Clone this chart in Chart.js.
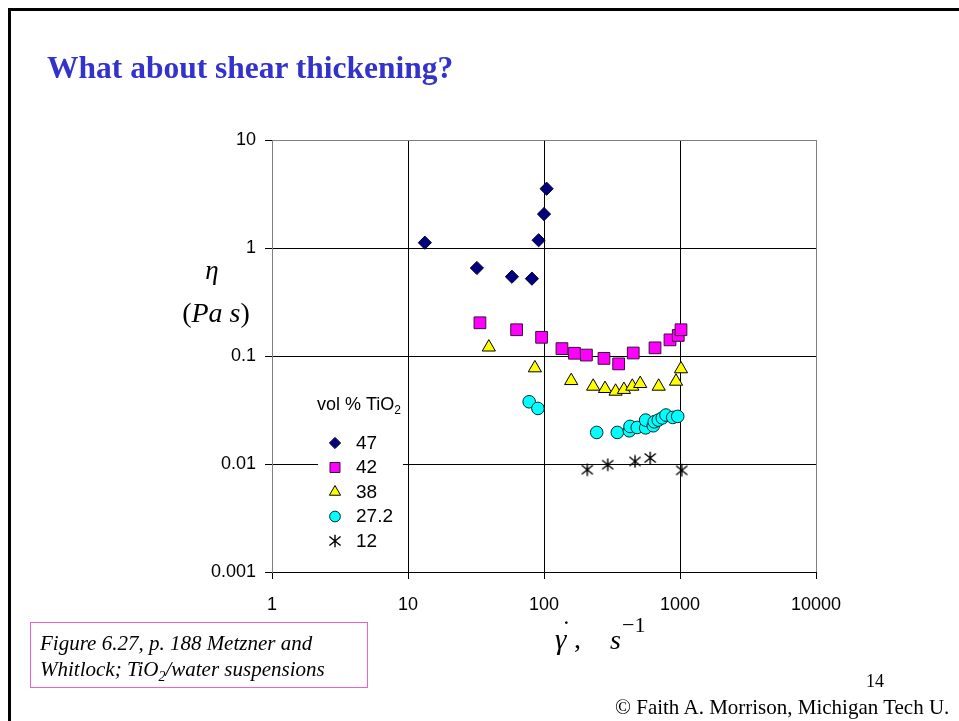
<!DOCTYPE html>
<html>
<head>
<meta charset="utf-8">
<title>What about shear thickening?</title>
<script src="https://cdn.jsdelivr.net/npm/chart.js@4.4.1/dist/chart.umd.min.js"></script>
<style>
  html, body { margin: 0; padding: 0; background: #fff; }
  #page { position: relative; width: 959px; height: 721px; overflow: hidden; background: #fff; }
  #plot { position: absolute; left: 0; top: 0; }
  .bar { position: absolute; background: #000; }
  .txt { position: absolute; white-space: nowrap; line-height: 1; color: #000; }
  .serif { font-family: "Liberation Serif", "Times New Roman", serif; }
  #title { left: 47px; top: 52px; font-size: 31.5px; font-weight: bold; color: #3333CC; }
  #caption { position: absolute; left: 30px; top: 622px; width: 338px; height: 66px;
             border: 1.5px solid #F060D0; box-sizing: border-box; }
  .cap { font-size: 21px; font-style: italic; }
  sub.s { font-size: 14px; vertical-align: baseline; position: relative; top: 5px; }
</style>
</head>
<body>
<div id="page">
  <canvas id="plot" width="959" height="721"></canvas>

  <div class="bar" style="left:8px; top:8px; width:3px; height:713px;"></div>
  <div class="bar" style="left:8px; top:8px; width:951px; height:3px;"></div>

  <div id="title" class="txt serif">What about shear thickening?</div>

  <!-- y-axis title -->
  <div class="txt serif" style="left:182px; width:60px; text-align:center; top:257px; font-size:27px; font-style:italic;">η</div>
  <div class="txt serif" style="left:176px; width:80px; text-align:center; top:299px; font-size:28px;">(<i>Pa s</i>)</div>

  <!-- x-axis title: gamma-dot, s^-1 -->
  <div class="txt serif" style="left:555px; top:625px; font-size:29px; font-style:italic;">γ</div>
  <div class="txt serif" style="left:562px; top:617px; font-size:26px;">˙</div>
  <div class="txt serif" style="left:574px; top:625px; font-size:28px;">,</div>
  <div class="txt serif" style="left:610px; top:626px; font-size:28px; font-style:italic;">s</div>
  <div class="txt serif" style="left:622px; top:614px; font-size:22px;">−1</div>

  <div id="caption">
    <div class="txt serif cap" style="left:9px; top:10px;">Figure 6.27, p. 188 Metzner and</div>
    <div class="txt serif cap" style="left:9px; top:36px;">Whitlock; TiO<sub class="s">2</sub>/water suspensions</div>
  </div>

  <div class="txt serif" style="left:866px; top:672px; font-size:18px;">14</div>
  <div class="txt serif" style="left:615px; top:697px; font-size:21px;">© Faith A. Morrison, Michigan Tech U.</div>
</div>

<script>
// Axis ticks (decades only) and their labels
const xTickValues = [1, 10, 100, 1000, 10000];
const xTickLabels = ['1', '10', '100', '1000', '10000'];
const yTickValues = [0.001, 0.01, 0.1, 1, 10];
const yTickLabels = ['0.001', '0.01', '0.1', '1', '10'];

// Series labels: volume percent TiO2
const seriesNames = ['47', '42', '38', '27.2', '12'];

// Shear rate (1/s) and viscosity (Pa s) for each suspension
const rate47 = [13.3, 32.1, 58.1, 81.5, 91.3, 100, 104.5];
const eta47  = [1.12, 0.653, 0.542, 0.52, 1.18, 2.06, 3.54];

const rate42 = [33.8, 62.9, 96, 135.5, 167.5, 205, 276, 354, 453, 655, 844, 971, 1017];
const eta42  = [0.203, 0.175, 0.149, 0.117, 0.106, 0.102, 0.095, 0.0845, 0.1066, 0.119, 0.141, 0.155, 0.175];

const rate38 = [39.3, 85.7, 158.5, 230, 281, 336, 387, 446, 510, 697, 935, 1017];
const eta38  = [0.1206, 0.0774, 0.059, 0.0523, 0.0498, 0.047, 0.0488, 0.0523, 0.0554, 0.0523, 0.0582, 0.0758];

const rate27 = [77.8, 90.2, 244, 346, 424, 429, 485, 559, 559, 636, 647, 692, 741, 789, 884, 962];
const eta27  = [0.0377, 0.0327, 0.0196, 0.0196, 0.0203, 0.0223, 0.0218, 0.0216, 0.0255, 0.0226, 0.0246, 0.0255, 0.0267, 0.0284, 0.027, 0.0276];

const rate12 = [208, 294, 467, 604, 1029];
const eta12  = [0.00885, 0.00985, 0.01057, 0.01137, 0.00873];

function pairs(xs, ys) { return xs.map((x, i) => ({ x: x, y: ys[i] })); }

// Six-armed asterisk marker for the 12 % series
function makeAsterisk(size) {
  const c = document.createElement('canvas');
  c.width = size; c.height = size;
  const g = c.getContext('2d');
  const m = size / 2, r = size / 2 - 0.8;
  g.strokeStyle = '#000';
  g.lineWidth = 1.4;
  g.beginPath();
  g.moveTo(m, m - r); g.lineTo(m, m + r);
  g.moveTo(m - r * 0.9, m - r * 0.72); g.lineTo(m + r * 0.9, m + r * 0.72);
  g.moveTo(m + r * 0.9, m - r * 0.72); g.lineTo(m - r * 0.9, m + r * 0.72);
  g.stroke();
  return c;
}
const asterisk = makeAsterisk(14);

const datasets = [
  { label: seriesNames[0], data: pairs(rate47, eta47), pointStyle: 'rectRot', pointRadius: 6.6,
    backgroundColor: '#000080', borderColor: '#000022', borderWidth: 1 },
  { label: seriesNames[1], data: pairs(rate42, eta42), pointStyle: 'rect', pointRadius: 8.3,
    backgroundColor: '#FF00FF', borderColor: '#3a1038', borderWidth: 1 },
  { label: seriesNames[2], data: pairs(rate38, eta38), pointStyle: 'triangle', pointRadius: 7.6,
    backgroundColor: '#FFFF00', borderColor: '#000000', borderWidth: 1 },
  { label: seriesNames[3], data: pairs(rate27, eta27), pointStyle: 'circle', pointRadius: 6.3,
    backgroundColor: '#00FFFF', borderColor: '#002a2a', borderWidth: 1 },
  { label: seriesNames[4], data: pairs(rate12, eta12), pointStyle: asterisk, pointRadius: 7,
    backgroundColor: '#000', borderColor: '#000', borderWidth: 1 }
];

// Marker drawing for the inset key, using Chart.js' own point renderer when exposed
function drawMarker(ctx, ds, x, y) {
  ctx.fillStyle = ds.backgroundColor;
  ctx.strokeStyle = ds.borderColor;
  ctx.lineWidth = ds.borderWidth;
  const r = ds.pointRadius * 0.85;
  if (Chart.helpers && Chart.helpers.drawPoint) {
    Chart.helpers.drawPoint(ctx, { pointStyle: ds.pointStyle, radius: r,
      rotation: 0, borderWidth: ds.borderWidth }, x, y);
    return;
  }
  const st = ds.pointStyle;
  if (typeof st !== 'string') { ctx.drawImage(st, x - st.width / 2, y - st.height / 2); return; }
  ctx.beginPath();
  if (st === 'circle') ctx.arc(x, y, r, 0, Math.PI * 2);
  else if (st === 'rect') { const s = r * Math.SQRT1_2; ctx.rect(x - s, y - s, 2 * s, 2 * s); }
  else if (st === 'rectRot') { ctx.moveTo(x - r, y); ctx.lineTo(x, y - r); ctx.lineTo(x + r, y); ctx.lineTo(x, y + r); ctx.closePath(); }
  else if (st === 'triangle') {
    for (let k = 0; k < 3; k++) { const a = k * 2 * Math.PI / 3; const px = x + Math.sin(a) * r, py = y - Math.cos(a) * r; k ? ctx.lineTo(px, py) : ctx.moveTo(px, py); }
    ctx.closePath();
  }
  ctx.fill(); ctx.stroke();
}

// Key drawn inside the plot area, on a white patch
const insetKey = {
  id: 'insetKey',
  afterDraw(chart) {
    const ctx = chart.ctx;
    ctx.save();
    ctx.fillStyle = '#fff';
    ctx.fillRect(318, 390, 85, 162);
    ctx.fillStyle = '#000';
    ctx.textBaseline = 'middle';
    ctx.font = '18px "Liberation Sans", Arial, sans-serif';
    ctx.fillText('vol % TiO', 317, 405);
    const w = ctx.measureText('vol % TiO').width;
    ctx.font = '12px "Liberation Sans", Arial, sans-serif';
    ctx.fillText('2', 317 + w, 411);
    chart.data.datasets.forEach((ds, i) => {
      const y = 443 + i * 24.5;
      drawMarker(ctx, ds, 335, y);
      ctx.fillStyle = '#000';
      ctx.font = '19px "Liberation Sans", Arial, sans-serif';
      ctx.fillText(ds.label, 356, y + 0.5);
    });
    ctx.restore();
  }
};

const tickFont = { family: '"Liberation Sans", Arial, sans-serif', size: 18 };

new Chart(document.getElementById('plot'), {
  type: 'scatter',
  data: { datasets: datasets },
  plugins: [insetKey],
  options: {
    responsive: false,
    animation: false,
    devicePixelRatio: 1,
    events: [],
    layout: { padding: { left: 200, right: 143, top: 140, bottom: 109 } },
    plugins: { legend: { display: false }, tooltip: { enabled: false }, title: { display: false } },
    scales: {
      x: {
        type: 'logarithmic', min: 1, max: 10000,
        afterBuildTicks: s => { s.ticks = xTickValues.map(v => ({ value: v })); },
        afterFit: s => { s.height = 40; },
        grid: {
          color: c => (c.tick && (c.tick.value === 1 || c.tick.value === 10000)) ? '#808080' : '#000',
          lineWidth: 1, tickLength: 7, tickColor: '#000', drawTicks: true
        },
        border: { display: true, color: '#000', width: 1 },
        ticks: {
          font: tickFont, color: '#000', padding: 15, maxRotation: 0, autoSkip: false,
          callback: (v, i) => xTickLabels[i]
        }
      },
      y: {
        type: 'logarithmic', min: 0.001, max: 10,
        afterBuildTicks: s => { s.ticks = yTickValues.map(v => ({ value: v })); },
        afterFit: s => { s.width = 72; },
        grid: {
          color: c => (c.tick && c.tick.value === 10) ? '#808080' : '#000',
          lineWidth: 1, tickLength: 7, tickColor: '#000', drawTicks: true
        },
        border: { display: true, color: '#808080', width: 1 },
        ticks: {
          font: tickFont, color: '#000', padding: 9, autoSkip: false,
          callback: (v, i) => yTickLabels[i]
        }
      }
    }
  }
});
</script>
</body>
</html>
